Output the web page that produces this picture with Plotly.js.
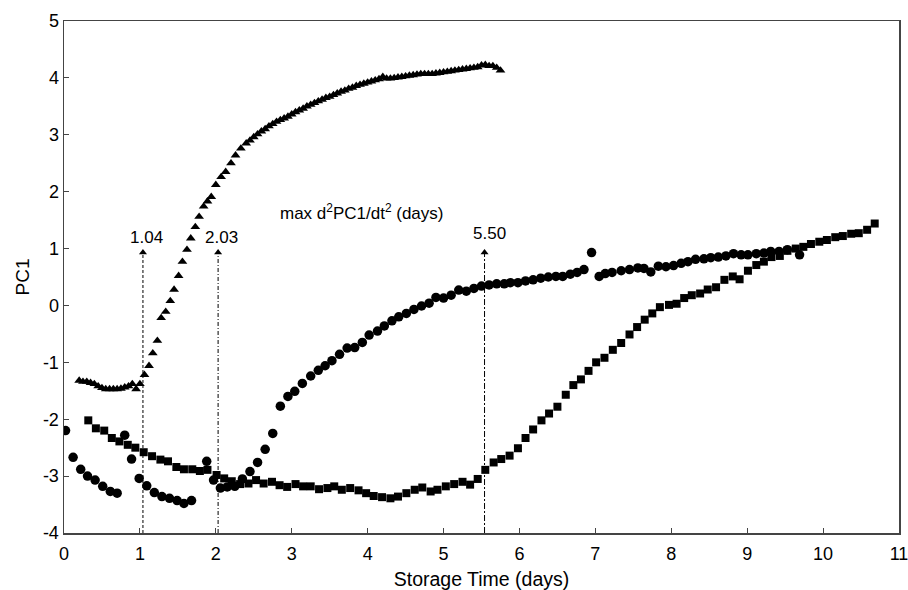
<!DOCTYPE html>
<html>
<head>
<meta charset="utf-8">
<script src="https://cdn.plot.ly/plotly-3.0.1.min.js"></script>
<style>html,body{margin:0;padding:0;background:#fff;}#chart{width:908px;height:590px;}</style>
</head>
<body>
<div id="chart"></div>
<script>
// Triangles series
var triX = [0.20,0.25,0.30,0.35,0.40,0.45,0.50,0.55,0.60,0.65,0.70,0.75,0.80,0.85,0.90,0.95,1.00,
  1.06,1.12,1.17,1.23,1.28,1.34,1.40,1.45,1.51,1.56,1.62,1.67,1.73,1.78,1.84,1.89,1.94,2.00,2.07,2.13,2.20,2.26,2.33,2.40,
  2.45,2.50,2.55,2.60,2.65,2.70,2.75,2.80,2.85,2.90,2.95,3.00,3.05,3.10,3.15,3.20,3.25,3.30,3.35,3.40,3.45,3.50,
  3.55,3.60,3.65,3.70,3.75,3.80,3.85,3.90,3.95,4.00,4.05,4.10,4.15,4.20,4.25,4.30,4.35,4.40,4.45,4.50,4.55,4.60,
  4.65,4.70,4.75,4.80,4.85,4.90,4.95,5.00,5.05,5.10,5.15,5.20,5.25,5.30,5.35,5.40,5.45,5.50,5.55,5.60,5.65,5.70,5.75];
var triY = [-1.32,-1.34,-1.34,-1.36,-1.38,-1.42,-1.45,-1.47,-1.47,-1.47,-1.47,-1.46,-1.44,-1.42,-1.38,-1.47,-1.38,
  -1.22,-1.06,-0.84,-0.62,-0.22,-0.11,0.08,0.28,0.52,0.77,0.98,1.18,1.38,1.56,1.74,1.83,1.91,2.12,2.26,2.35,2.50,2.64,2.76,2.85,
  2.90,2.96,3.01,3.06,3.10,3.15,3.19,3.23,3.26,3.29,3.32,3.36,3.40,3.43,3.46,3.50,3.53,3.56,3.59,3.62,3.65,3.67,
  3.70,3.73,3.76,3.78,3.81,3.83,3.86,3.88,3.90,3.92,3.94,3.96,3.98,4.02,3.99,3.99,4.00,4.01,4.02,4.03,4.04,4.05,
  4.06,4.07,4.07,4.07,4.07,4.08,4.09,4.10,4.11,4.12,4.13,4.14,4.15,4.16,4.17,4.18,4.19,4.22,4.23,4.21,4.21,4.18,4.13];

// Circles series
var circX = [0.02,0.12,0.22,0.31,0.41,0.51,0.61,0.70,
  0.80,0.89,0.99,1.09,1.19,1.29,1.39,1.49,1.58,1.68,
  1.88,1.97,2.06,2.15,2.25,2.35,2.45,2.55,2.65,2.75,2.85,2.95,3.04,3.14,3.25,3.35,3.44,3.53,3.63,3.73,3.83,3.93,
  4.02,4.13,4.22,4.32,4.41,4.51,4.61,4.71,4.81,4.90,5.00,5.10,5.20,5.30,5.40,5.50,5.60,5.70,5.80,5.88,5.98,
  6.08,6.18,6.28,6.38,6.48,6.57,6.67,6.76,6.85,6.95,7.05,7.13,7.22,7.34,7.45,7.56,7.64,7.73,7.83,7.93,
  8.03,8.13,8.22,8.32,8.43,8.52,8.62,8.72,8.82,8.92,9.01,9.12,9.22,9.31,9.42,9.53,9.69];
var circY = [-2.20,-2.67,-2.88,-3.00,-3.07,-3.18,-3.27,-3.30,
  -2.28,-2.70,-3.04,-3.17,-3.29,-3.36,-3.39,-3.43,-3.48,-3.43,
  -2.74,-3.07,-3.21,-3.19,-3.18,-3.05,-2.92,-2.76,-2.53,-2.25,-1.77,-1.60,-1.51,-1.37,-1.24,-1.14,-1.06,-0.97,-0.86,-0.75,-0.74,-0.65,
  -0.52,-0.45,-0.36,-0.27,-0.20,-0.14,-0.07,-0.01,0.04,0.14,0.13,0.18,0.27,0.25,0.30,0.34,0.36,0.38,0.38,0.40,0.40,
  0.43,0.45,0.48,0.50,0.51,0.51,0.55,0.58,0.63,0.93,0.51,0.56,0.58,0.61,0.63,0.66,0.65,0.59,0.69,0.68,
  0.70,0.74,0.77,0.81,0.82,0.84,0.85,0.87,0.91,0.89,0.89,0.91,0.92,0.95,0.95,0.98,0.89];

// Squares series
var sqX = [0.32,0.42,0.53,0.63,0.73,0.84,0.94,1.05,1.16,1.27,1.37,1.48,1.58,1.69,1.79,1.89,2.01,2.11,2.21,2.32,
  2.43,2.53,2.63,2.74,2.84,2.94,3.05,3.15,3.25,3.36,3.47,3.56,3.66,3.77,3.88,3.98,4.08,4.19,4.30,4.40,
  4.51,4.62,4.72,4.83,4.92,5.03,5.14,5.25,5.35,5.45,5.55,5.66,5.76,5.87,5.98,6.08,6.18,6.29,6.39,6.50,
  6.61,6.71,6.81,6.91,7.01,7.12,7.23,7.34,7.45,7.55,7.65,7.75,7.85,7.97,8.07,8.17,8.27,8.38,8.48,8.59,
  8.70,8.81,8.90,9.01,9.12,9.22,9.32,9.43,9.53,9.64,9.74,9.84,9.95,10.05,10.16,10.26,10.37,10.47,10.58,10.68];
var sqY = [-2.02,-2.16,-2.20,-2.33,-2.39,-2.45,-2.50,-2.58,-2.65,-2.71,-2.74,-2.84,-2.88,-2.88,-2.91,-2.89,-2.98,-3.04,-3.09,-3.14,
  -3.13,-3.07,-3.13,-3.10,-3.16,-3.19,-3.14,-3.18,-3.18,-3.23,-3.21,-3.18,-3.24,-3.21,-3.25,-3.30,-3.35,-3.37,-3.39,-3.36,
  -3.30,-3.24,-3.20,-3.27,-3.24,-3.18,-3.14,-3.10,-3.15,-3.05,-2.89,-2.76,-2.70,-2.64,-2.51,-2.33,-2.18,-2.02,-1.90,-1.78,
  -1.57,-1.40,-1.30,-1.15,-1.00,-0.92,-0.78,-0.66,-0.51,-0.38,-0.25,-0.14,-0.03,0.01,0.03,0.13,0.18,0.21,0.28,0.32,
  0.45,0.51,0.46,0.61,0.71,0.77,0.85,0.87,0.96,1.00,1.03,1.08,1.12,1.15,1.20,1.22,1.26,1.27,1.33,1.44];

// Axis ticks
var xTickVals = [0,1,2,3,4,5,6,7,8,9,10,11];
var xTickText = ['0','1','2','3','4','5','6','7','8','9','10','11'];
var yTickVals = [-4,-3,-2,-1,0,1,2,3,4,5];
var yTickText = ['-4','-3','-2','-1','0','1','2','3','4','5'];

// Max second-derivative markers
var arrowX = [1.04, 2.03, 5.54];
var arrowTipY = [0.93, 0.93, 0.93];
var arrowLabels = ['1.04', '2.03', '5.50'];
var arrowLabelX = [1.09, 2.07, 5.60];
var arrowLabelY = [1.19, 1.19, 1.27];
var arrowDash = ['3px,2px', '4px,2px,1px,2px', '6px,2px,2px,2px'];
var noteText = 'max d<sup>2</sup>PC1/dt<sup>2</sup> (days)';
var xTitle = 'Storage Time (days)';
var yTitle = 'PC1';

var FONT = 'Liberation Sans, Arial, sans-serif';

var traces = [
  {x: triX, y: triY, mode: 'markers', type: 'scatter',
   marker: {symbol: 'triangle-up', size: 8.5, color: '#000'}},
  {x: circX, y: circY, mode: 'markers', type: 'scatter',
   marker: {symbol: 'circle', size: 9.5, color: '#000'}},
  {x: sqX, y: sqY, mode: 'markers', type: 'scatter',
   marker: {symbol: 'square', size: 8, color: '#000'}},
  {x: arrowX, y: arrowTipY, mode: 'markers', type: 'scatter',
   marker: {symbol: 'triangle-up', size: 7, color: '#000'}}
];

var shapes = [];
var annotations = [];
for (var i = 0; i < arrowX.length; i++) {
  shapes.push({type: 'line', xref: 'x', yref: 'y', x0: arrowX[i], x1: arrowX[i], y0: -4, y1: arrowTipY[i],
    line: {color: '#000', width: 1, dash: arrowDash[i]}});
  annotations.push({xref: 'x', yref: 'y', x: arrowLabelX[i], y: arrowLabelY[i], text: arrowLabels[i],
    showarrow: false, font: {family: FONT, size: 17, color: '#000'}});
}
annotations.push({xref: 'x', yref: 'y', x: 3.93, y: 1.64, text: noteText, showarrow: false,
  font: {family: FONT, size: 17, color: '#000'}});

var layout = {
  width: 908, height: 590,
  margin: {l: 64, r: 9, t: 21, b: 57},
  paper_bgcolor: '#fff', plot_bgcolor: '#fff',
  showlegend: false,
  font: {family: FONT, color: '#000', size: 18},
  xaxis: {range: [0, 11], tickmode: 'array', tickvals: xTickVals, ticktext: xTickText,
    showgrid: false, zeroline: false,
    showline: true, mirror: true, linecolor: '#444', linewidth: 1.5,
    ticks: 'inside', ticklen: 5, tickcolor: '#444', tickwidth: 1,
    ticklabelstandoff: 4, ticklabeloverflow: 'allow',
    tickfont: {family: FONT, size: 18, color: '#000'},
    title: {text: xTitle, font: {family: FONT, size: 19.5, color: '#000'}, standoff: 12}},
  yaxis: {range: [-4, 5], tickmode: 'array', tickvals: yTickVals, ticktext: yTickText,
    showgrid: false, zeroline: false,
    showline: true, mirror: true, linecolor: '#444', linewidth: 1.5,
    ticks: 'inside', ticklen: 5, tickcolor: '#444', tickwidth: 1,
    ticklabeloverflow: 'allow',
    tickfont: {family: FONT, size: 18, color: '#000'},
    title: {text: yTitle, font: {family: FONT, size: 19, color: '#000'}, standoff: 8}},
  shapes: shapes,
  annotations: annotations
};

Plotly.newPlot('chart', traces, layout, {displayModeBar: false, staticPlot: true});
</script>
</body>
</html>
